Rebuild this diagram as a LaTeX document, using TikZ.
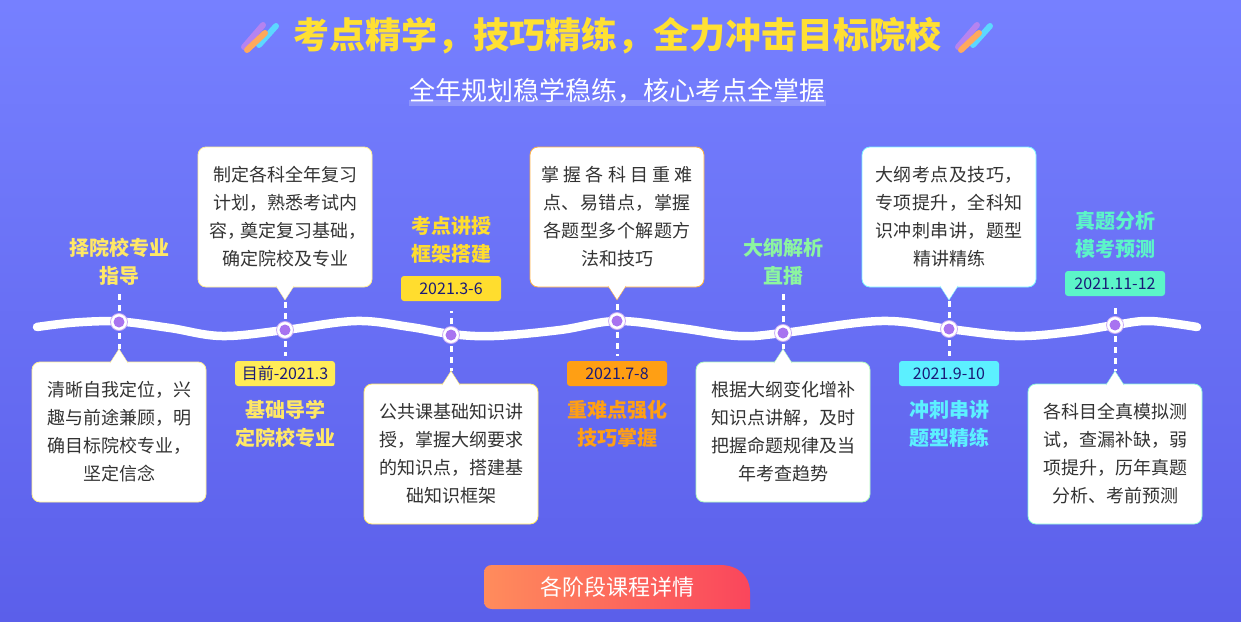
\documentclass[tikz,border=0pt]{standalone}
\usepackage{fontspec}
\setmainfont{Noto Sans CJK SC}
\newcommand{\wideline}[1]{{\addfontfeature{LetterSpace=2.5}#1}}
\definecolor{bgtop}{HTML}{7680FF}
\definecolor{bgbot}{HTML}{5B5FEA}
\definecolor{dotcol}{HTML}{A873F0}
\definecolor{titlecol}{HTML}{FFE033}
\definecolor{bodycol}{HTML}{333333}
\definecolor{tagtext}{HTML}{1A1A78}
\definecolor{btnl}{HTML}{FF8C5C}
\definecolor{btnr}{HTML}{FA465C}
\definecolor{yelA}{HTML}{FFE866}
\definecolor{yelB}{HTML}{FFDD2E}
\definecolor{orgA}{HTML}{FF9F14}
\definecolor{grnA}{HTML}{8CF5A0}
\definecolor{cynA}{HTML}{5CF0FF}
\definecolor{tealA}{HTML}{5CF5C8}
\definecolor{barA}{HTML}{B583F0}
\definecolor{barB}{HTML}{5CD8FF}
\definecolor{barC}{HTML}{FFA95C}
\begin{document}
\begin{tikzpicture}[x=1pt,y=-1pt,
	box/.style={draw=#1,fill=white,line width=.8pt,rounded corners=8pt,minimum width=174pt,minimum height=140pt,inner sep=0pt,align=center,text=bodycol,font=\fontsize{18}{28}\selectfont,execute at begin node=\rule{0pt}{20pt}},
	lab/.style={text=#1,inner sep=0pt,align=center,font=\fontsize{20}{28}\selectfont\bfseries},
	tagbox/.style={fill=#1,rounded corners=3pt,minimum width=100pt,minimum height=25pt,inner sep=0pt,text=tagtext,font=\fontsize{16}{20}\selectfont},
	ring/.style={circle,fill=white,draw=dotcol!60,line width=.8pt,minimum size=17pt,inner sep=0pt},
	link/.style={draw=white,line width=3pt,dash pattern=on 6pt off 5pt},
	bar/.style={line width=6pt,line cap=round}]
	\useasboundingbox (0,0) rectangle (1241,621);
	\shade[top color=bgtop,bottom color=bgbot] (0,0) rectangle (1241,621);
	% title
	\fill[white,opacity=.2] (409,100) rectangle (826,106);
	\node[text=titlecol,inner sep=0pt,font=\fontsize{36}{40}\selectfont\bfseries] (title) at (617,36) {考点精学，技巧精练，全力冲击目标院校};
	\node[text=white,inner sep=0pt,font=\fontsize{26}{30}\selectfont] (subtitle) at (617,91) {全年规划稳学稳练，核心考点全掌握};
	\draw[bar,barA] (244,47)--(263,25);
	\draw[bar,barB] (259,45)--(276,26);
	\draw[bar,barC] (247,50)--(265,33);
	\draw[bar,barA] (958,47)--(977,25);
	\draw[bar,barB] (973,45)--(990,26);
	\draw[bar,barC] (961,50)--(979,33);
	% labels and tags
	\node[lab=yelA] (lab1) at (119,262) {择院校专业\\指导};
	\node[lab=yelA] (lab2) at (285,424) {基础导学\\定院校专业};
	\node[lab=yelB] (lab3) at (451,240) {考点讲授\\框架搭建};
	\node[lab=orgA] (lab4) at (617,424) {重难点强化\\技巧掌握};
	\node[lab=grnA] (lab5) at (783,262) {大纲解析\\直播};
	\node[lab=cynA] (lab6) at (949,424) {冲刺串讲\\题型精练};
	\node[lab=tealA] (lab7) at (1115,235) {真题分析\\模考预测};
	\node[tagbox=yelA!85!yellow] (tag2) at (285,373.5) {目前-2021.3};
	\node[tagbox=yelB] (tag3) at (451,288.5) {2021.3-6};
	\node[tagbox=orgA] (tag4) at (617,373.5) {2021.7-8};
	\node[tagbox=cynA] (tag6) at (949,373.5) {2021.9-10};
	\node[tagbox=tealA] (tag7) at (1115,283.5) {2021.11-12};
	% boxes
	\node[box=yelA!70!white] (box1) at (119,432) {清晰自我定位，兴\\趣与前途兼顾，明\\确目标院校专业，\\坚定信念};
	\node[box=yelA!70!white] (box2) at (285,217) {制定各科全年复习\\计划，熟悉考试内\\\hspace*{5pt}容，\kern-5pt 奠定复习基础，\\确定院校及专业};
	\node[box=yelA] (box3) at (451,454) {公共课基础知识讲\\授，掌握大纲要求\\的知识点，搭建基\\础知识框架};
	\node[box=orgA!80!white] (box4) at (617,217) {掌 握 各 科 目 重 难\\\wideline{点、易错点，掌握}\\\wideline{各题型多个解题方}\\法和技巧};
	\node[box=grnA!70!white] (box5) at (783,432) {根据大纲变化增补\\知识点讲解，及时\\把握命题规律及当\\年考查趋势};
	\node[box=cynA!80!white] (box6) at (949,217) {\wideline{大纲考点及技巧，}\\\wideline{专项提升，全科知}\\\wideline{识冲刺串讲，题型}\\精讲精练};
	\node[box=tealA!70!white] (box7) at (1115,454) {各科目全真模拟测\\试，查漏补缺，弱\\项提升，历年真题\\分析、考前预测};
	% pointers
	\draw[fill=white,draw=yelA!70!white] (110,363)--(119,349)--(128,363);
	\draw[fill=white,draw=yelA!70!white] (276,286)--(285,300)--(294,286);
	\draw[fill=white,draw=yelA] (442,385)--(451,371)--(460,385);
	\draw[fill=white,draw=orgA!80!white] (608,286)--(617,300)--(626,286);
	\draw[fill=white,draw=grnA!70!white] (774,363)--(783,349)--(792,363);
	\draw[fill=white,draw=cynA!80!white] (940,286)--(949,300)--(958,286);
	\draw[fill=white,draw=tealA!70!white] (1106,385)--(1115,371)--(1124,385);
	\coordinate (tip1) at (119,349);
	\coordinate (tip2) at (285,300);
	\coordinate (tip3) at (451,371);
	\coordinate (tip4) at (617,300);
	\coordinate (tip5) at (783,349);
	\coordinate (tip6) at (949,300);
	\coordinate (tip7) at (1115,371);
	% wave
	\draw[white,line width=8.5pt,line cap=round] plot[smooth,tension=.6] coordinates {(37,327) (75,322.5) (119,321.5) (170,328) (222,336) (285,330) (356,321) (410,327) (451,334) (494,336) (560,330) (617,321) (680,328) (738,336) (783,333) (881,321) (949,329) (1015,336) (1070,332) (1115,325) (1150,321) (1197,327)};
	% points on the wave
	\coordinate (pt1) at (119,322);
	\coordinate (pt2) at (285,330);
	\coordinate (pt3) at (451,335);
	\coordinate (pt4) at (617,321);
	\coordinate (pt5) at (783,333);
	\coordinate (pt6) at (949,329);
	\coordinate (pt7) at (1115,325);
	\draw[link,shorten >=6pt] (pt1)--(lab1.south);
	\draw[link] (pt1)--(tip1);
	\draw[link] (pt2)--(tip2);
	\draw[link,shorten >=5pt] (pt2)--(tag2.north);
	\draw[link,shorten >=10pt] (pt3)--(tag3.south);
	\draw[link] (pt3)--(tip3);
	\draw[link] (pt4)--(tip4);
	\draw[link,shorten >=5pt] (pt4)--(tag4.north);
	\draw[link,shorten >=6pt] (pt5)--(lab5.south);
	\draw[link] (pt5)--(tip5);
	\draw[link] (pt6)--(tip6);
	\draw[link,shorten >=5pt] (pt6)--(tag6.north);
	\draw[link,shorten >=10pt] (pt7)--(tag7.south);
	\draw[link] (pt7)--(tip7);
	\node[ring] (ring1) at (pt1) {};
	\node[ring] (ring2) at (pt2) {};
	\node[ring] (ring3) at (pt3) {};
	\node[ring] (ring4) at (pt4) {};
	\node[ring] (ring5) at (pt5) {};
	\node[ring] (ring6) at (pt6) {};
	\node[ring] (ring7) at (pt7) {};
	\fill[dotcol] (pt1) circle (5.5);
	\fill[dotcol] (pt2) circle (5.5);
	\fill[dotcol] (pt3) circle (5.5);
	\fill[dotcol] (pt4) circle (5.5);
	\fill[dotcol] (pt5) circle (5.5);
	\fill[dotcol] (pt6) circle (5.5);
	\fill[dotcol] (pt7) circle (5.5);
	% button
	\shade[left color=btnl,right color=btnr] (492,565)--(720,565) .. controls (738,565) and (750,576) .. (750,592)--(750,609)--(492,609) .. controls (487,609) and (484,606) .. (484,601)--(484,573) .. controls (484,568) and (487,565) .. (492,565);
	\node[text=white,inner sep=0pt,font=\fontsize{22}{26}\selectfont] (btn) at (617,587) {各阶段课程详情};
\end{tikzpicture}
\end{document}
